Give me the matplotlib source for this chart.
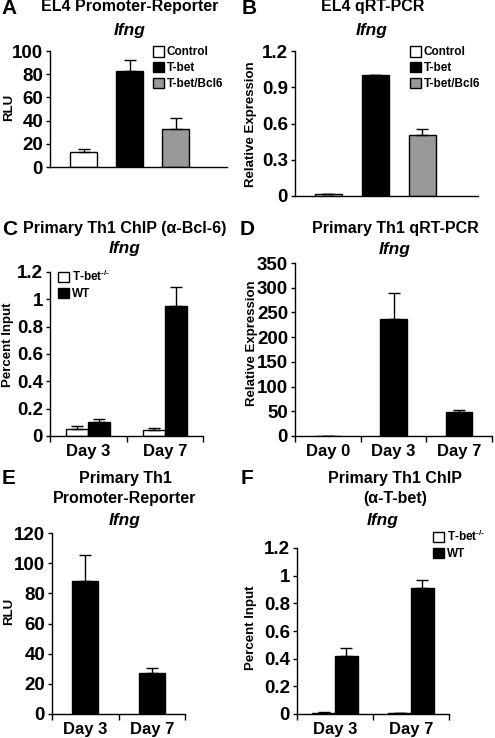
import matplotlib
matplotlib.use("Agg")
import matplotlib.pyplot as plt
import numpy as np

plt.rcParams['font.family'] = ['Liberation Sans', 'DejaVu Sans']
plt.rcParams['font.weight'] = 'bold'
plt.rcParams['mathtext.fontset'] = 'custom'
plt.rcParams['mathtext.rm'] = 'Liberation Sans:bold'
plt.rcParams['mathtext.bf'] = 'Liberation Sans:bold'

# data
a_labels = ['Control', 'T-bet', 'T-bet/Bcl6']
a_vals = [13, 83, 33]
a_err = [2.5, 9, 9]
a_ticks = [0, 20, 40, 60, 80, 100]

b_vals = [0.015, 1.0, 0.505]
b_err = [0.004, 0, 0.053]
b_ticks = [0, 0.3, 0.6, 0.9, 1.2]
b_ticklabels = ['0', '0.3', '0.6', '0.9', '1.2']

c_days = ['Day 3', 'Day 7']
c_ko = [0.052, 0.046]
c_ko_err = [0.018, 0.013]
c_wt = [0.105, 0.95]
c_wt_err = [0.02, 0.14]
chip_ticks = [0, 0.2, 0.4, 0.6, 0.8, 1.0, 1.2]
chip_ticklabels = ['0', '0.2', '0.4', '0.6', '0.8', '1', '1.2']

d_days = ['Day 0', 'Day 3', 'Day 7']
d_vals = [1, 237, 49]
d_err = [0, 53, 4]
d_ticks = [0, 50, 100, 150, 200, 250, 300, 350]

e_days = ['Day 3', 'Day 7']
e_vals = [88, 27.5]
e_err = [17.5, 2.8]
e_ticks = [0, 20, 40, 60, 80, 100, 120]

f_days = ['Day 3', 'Day 7']
f_ko = [0.01, 0.005]
f_ko_err = [0.005, 0.0]
f_wt = [0.42, 0.91]
f_wt_err = [0.057, 0.06]

geno_labels = [r'T-bet$^{\text{-/-}}$', 'WT']

W, H = 495, 738
fig = plt.figure(figsize=(W / 100, H / 100), dpi=100)
GRAY = '#999999'


def add_ax(left, top, right, bottom):
    return fig.add_axes([left / W, 1 - bottom / H, (right - left) / W, (bottom - top) / H])


def style(ax, ticks, ticklabels=None, ylim=None):
    for s in ['top', 'right']:
        ax.spines[s].set_visible(False)
    for s in ['left', 'bottom']:
        ax.spines[s].set_linewidth(1.0)
    ax.set_yticks(ticks)
    ax.set_yticklabels(ticklabels if ticklabels else [str(t) for t in ticks])
    ax.set_ylim(ylim)
    ax.tick_params(axis='y', direction='out', length=3, width=1, pad=2, labelsize=13.5)


def cat_axis(ax, labels):
    n = len(labels)
    ax.set_xlim(-0.5, n - 0.5)
    ax.set_xticks(range(n))
    ax.set_xticklabels(labels, fontsize=12)
    ax.set_xticks(np.arange(n + 1) - 0.5, minor=True)
    ax.tick_params(axis='x', which='major', length=0, pad=6)
    ax.tick_params(axis='x', which='minor', length=4, width=1, direction='out')


def bars(ax, x, vals, err, colors, width):
    ax.bar(x, vals, width, color=colors, edgecolor='black', linewidth=1, zorder=2)
    ax.errorbar(x, vals, yerr=[np.zeros(len(vals)), err], fmt='none',
                ecolor='black', elinewidth=1, capsize=4, capthick=1, zorder=3)


def px_text(x, y, s, **kw):
    fig.text(x / W, 1 - y / H, s, ha='center', va='center', **kw)


def legend(ax, handles, labels, x, y):
    ax.legend(handles, labels, loc='upper left', bbox_to_anchor=(x / W, 1 - y / H),
              bbox_transform=fig.transFigure, frameon=False, fontsize=8.5,
              handlelength=0.9, handleheight=1.0, handletextpad=0.25,
              labelspacing=0.3, borderpad=0, borderaxespad=0)


# A
ax = add_ax(50, 51, 227, 167)
xa = np.arange(3)
style(ax, a_ticks, ylim=(0, 100))
bars(ax, xa, a_vals, a_err, ['white', 'black', GRAY], 0.59)
ax.set_xlim(-0.73, 3.12)
ax.set_xticks([])
h = [plt.Rectangle((0, 0), 1, 1, fc=c, ec='black') for c in ['white', 'black', GRAY]]
legend(ax, h, a_labels, 153, 46)

# B
ax = add_ax(295, 51, 478, 196)
style(ax, b_ticks, b_ticklabels, ylim=(0, 1.2))
bars(ax, xa, b_vals, b_err, ['white', 'black', GRAY], 0.58)
ax.set_xlim(-0.71, 3.18)
ax.set_xticks([])
legend(ax, h, a_labels, 410, 46)

# C
ax = add_ax(50, 272, 203, 436)
style(ax, chip_ticks, chip_ticklabels, ylim=(0, 1.2))
xc = np.arange(2)
bars(ax, xc - 0.145, c_ko, c_ko_err, 'white', 0.29)
bars(ax, xc + 0.145, c_wt, c_wt_err, 'black', 0.29)
cat_axis(ax, c_days)
h2 = [plt.Rectangle((0, 0), 1, 1, fc=c, ec='black') for c in ['white', 'black']]
legend(ax, h2, geno_labels, 58, 269)

# D
ax = add_ax(295, 263, 492, 436)
style(ax, d_ticks, ylim=(0, 350))
bars(ax, np.arange(3), d_vals, d_err, 'black', 0.40)
cat_axis(ax, d_days)

# E
ax = add_ax(52, 533, 185, 714)
style(ax, e_ticks, ylim=(0, 120))
bars(ax, np.arange(2), e_vals, e_err, 'black', 0.39)
cat_axis(ax, e_days)

# F
ax = add_ax(297, 548, 449, 714)
style(ax, chip_ticks, chip_ticklabels, ylim=(0, 1.2))
bars(ax, xc - 0.15, f_ko, f_ko_err, 'white', 0.30)
bars(ax, xc + 0.15, f_wt, f_wt_err, 'black', 0.30)
cat_axis(ax, f_days)
legend(ax, h2, geno_labels, 433, 529)

# y labels
ylab = dict(rotation=90, fontsize=9.5, fontweight='bold')
px_text(9, 107, 'RLU', **ylab)
px_text(251, 124, 'Relative Expression', **ylab)
px_text(8, 345, 'Percent Input', **ylab)
px_text(252, 343, 'Relative Expression', **ylab)
px_text(9, 611, 'RLU', **ylab)
px_text(251, 628, 'Percent Input', **ylab)

# titles
tk = dict(fontsize=11.5, fontweight='bold')
ik = dict(fontsize=12.5, fontweight='bold', fontstyle='italic')
lk = dict(fontsize=15, fontweight='bold')
px_text(9, 9, 'A', **lk)
px_text(249, 9, 'B', **lk)
px_text(10, 229, 'C', **lk)
px_text(247, 229, 'D', **lk)
px_text(9, 479, 'E', **lk)
px_text(247, 479, 'F', **lk)

px_text(130, 7, 'EL4 Promoter-Reporter', **tk)
px_text(130, 30, 'Ifng', **ik)
px_text(373, 7, 'EL4 qRT-PCR', **tk)
px_text(372, 30, 'Ifng', **ik)
px_text(125, 228, 'Primary Th1 ChIP (α-Bcl-6)', **tk)
px_text(125, 248, 'Ifng', **ik)
px_text(395, 228, 'Primary Th1 qRT-PCR', **tk)
px_text(395, 250, 'Ifng', **ik)
px_text(125, 478, 'Primary Th1', **tk)
px_text(125, 498, 'Promoter-Reporter', **tk)
px_text(125, 520, 'Ifng', **ik)
px_text(395, 478, 'Primary Th1 ChIP', **tk)
px_text(395, 498, '(α-T-bet)', **tk)
px_text(383, 520, 'Ifng', **ik)

fig.savefig('out.png', dpi=100)
